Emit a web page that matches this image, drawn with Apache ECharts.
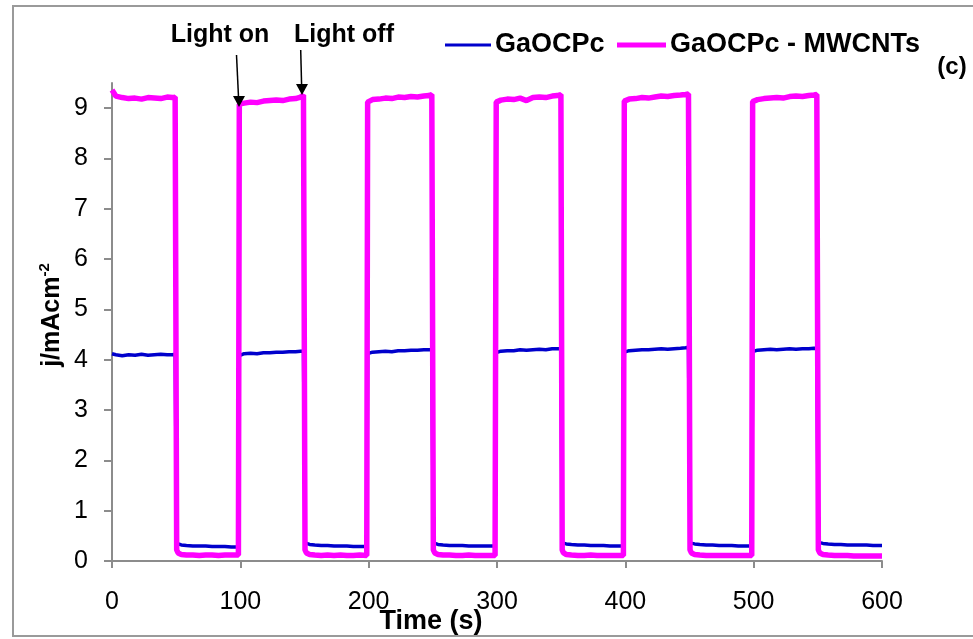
<!DOCTYPE html>
<html>
<head>
<meta charset="utf-8">
<script src="https://cdn.jsdelivr.net/npm/echarts@6/dist/echarts.min.js"></script>
<style>
html,body{margin:0;padding:0;background:#fff;}
#main{width:973px;height:639px;}
</style>
</head>
<body>
<div id="main"></div>
<script>
// Time (s)
var times = [
  0, 3, 8, 13, 18, 23, 28, 33, 38, 43, 47, 49.2,
  50.4, 51.5, 54, 58, 63, 68, 73, 78, 83, 88, 93, 98.5,
  99.2, 103, 108, 113, 118, 123, 128, 133, 138, 143, 147, 149.2,
  150.4, 151.5, 154, 158, 163, 168, 173, 178, 183, 188, 193, 198.5,
  199.2, 203, 208, 213, 218, 223, 228, 233, 238, 243, 247, 249.2,
  250.4, 251.5, 254, 258, 263, 268, 273, 278, 283, 288, 293, 298.5,
  299.4, 303, 308, 313, 318, 323, 328, 333, 338, 343, 347, 349.8,
  350.8, 351.8, 354, 358, 363, 368, 373, 378, 383, 388, 393, 398.5,
  399.2, 403, 408, 413, 418, 423, 428, 433, 438, 443, 447, 449.2,
  450.4, 451.5, 454, 458, 463, 468, 473, 478, 483, 488, 493, 498.5,
  499.2, 503, 508, 513, 518, 523, 528, 533, 538, 543, 547, 549.2,
  550.4, 551.5, 554, 558, 563, 568, 573, 578, 583, 588, 593, 600
];
// GaOCPc (j / mA cm^-2)
var gaocpc = [
  4.12, 4.10, 4.08, 4.10, 4.09, 4.11, 4.09, 4.10, 4.11, 4.10, 4.10, 4.11,
  0.35, 0.33, 0.32, 0.31, 0.30, 0.30, 0.30, 0.29, 0.29, 0.29, 0.28, 0.28,
  4.08, 4.12, 4.13, 4.12, 4.14, 4.14, 4.15, 4.15, 4.16, 4.16, 4.17, 4.17,
  0.36, 0.34, 0.33, 0.32, 0.31, 0.31, 0.30, 0.30, 0.30, 0.29, 0.29, 0.29,
  4.12, 4.15, 4.16, 4.17, 4.16, 4.18, 4.18, 4.19, 4.19, 4.20, 4.20, 4.20,
  0.36, 0.34, 0.33, 0.32, 0.31, 0.31, 0.31, 0.30, 0.30, 0.30, 0.30, 0.30,
  4.14, 4.17, 4.18, 4.18, 4.20, 4.19, 4.20, 4.21, 4.20, 4.22, 4.22, 4.22,
  0.36, 0.35, 0.34, 0.33, 0.32, 0.32, 0.31, 0.31, 0.31, 0.30, 0.30, 0.30,
  4.15, 4.18, 4.19, 4.20, 4.20, 4.21, 4.22, 4.21, 4.22, 4.23, 4.24, 4.25,
  0.36, 0.35, 0.34, 0.33, 0.32, 0.32, 0.31, 0.31, 0.31, 0.30, 0.30, 0.30,
  4.16, 4.19, 4.20, 4.21, 4.20, 4.21, 4.22, 4.21, 4.22, 4.22, 4.23, 4.22,
  0.37, 0.36, 0.35, 0.34, 0.33, 0.33, 0.32, 0.32, 0.32, 0.32, 0.31, 0.31
];
// GaOCPc - MWCNTs (j / mA cm^-2)
var gaocpcMwcnt = [
  9.36, 9.24, 9.21, 9.19, 9.20, 9.18, 9.21, 9.20, 9.19, 9.22, 9.21, 9.22,
  0.22, 0.16, 0.13, 0.12, 0.12, 0.11, 0.12, 0.12, 0.11, 0.12, 0.12, 0.12,
  9.08, 9.10, 9.12, 9.11, 9.14, 9.15, 9.16, 9.15, 9.18, 9.19, 9.22, 9.26,
  0.22, 0.16, 0.13, 0.12, 0.11, 0.12, 0.11, 0.12, 0.11, 0.11, 0.12, 0.11,
  9.12, 9.17, 9.18, 9.20, 9.19, 9.22, 9.21, 9.23, 9.22, 9.24, 9.25, 9.27,
  0.22, 0.16, 0.13, 0.12, 0.12, 0.11, 0.11, 0.12, 0.11, 0.11, 0.11, 0.11,
  9.12, 9.16, 9.18, 9.17, 9.20, 9.15, 9.21, 9.22, 9.21, 9.24, 9.25, 9.27,
  0.22, 0.16, 0.13, 0.12, 0.11, 0.11, 0.12, 0.11, 0.11, 0.11, 0.11, 0.11,
  9.14, 9.18, 9.19, 9.21, 9.20, 9.22, 9.24, 9.23, 9.25, 9.26, 9.27, 9.28,
  0.22, 0.16, 0.13, 0.12, 0.11, 0.11, 0.11, 0.11, 0.11, 0.11, 0.11, 0.11,
  9.13, 9.17, 9.19, 9.20, 9.21, 9.20, 9.23, 9.24, 9.23, 9.25, 9.26, 9.27,
  0.22, 0.16, 0.13, 0.12, 0.11, 0.11, 0.11, 0.10, 0.10, 0.10, 0.10, 0.10
];
var xTicks = [0, 100, 200, 300, 400, 500, 600];
var yTicks = [0, 1, 2, 3, 4, 5, 6, 7, 8, 9];
var seriesNames = ['GaOCPc', 'GaOCPc - MWCNTs'];

function pairs(xs, ys) {
  var out = [];
  for (var i = 0; i < xs.length; i++) out.push([xs[i], ys[i]]);
  return out;
}

var FONT = 'Liberation Sans';
var AXIS_COLOR = '#8c8c8c';
var BLUE = '#0000CC';
var MAGENTA = '#FF00FF';
var legendText = {fontFamily: FONT, fontSize: 27, fontWeight: 'bold', color: '#000', lineHeight: 28, padding: [0, 0, 0, -1]};
var chart = echarts.init(document.getElementById('main'), null, {renderer: 'canvas'});
chart.setOption({
  animation: false,
  backgroundColor: '#ffffff',
  textStyle: {fontFamily: FONT},
  grid: {left: 112, right: 91, top: 83, bottom: 78, containLabel: false, outerBoundsMode: 'none'},
  legend: [
    {
      left: 440, top: 26, icon: 'rect',
      itemWidth: 46, itemHeight: 3, itemGap: 10,
      textStyle: legendText,
      data: [seriesNames[0]]
    },
    {
      left: 612, top: 26, icon: 'rect',
      itemWidth: 49, itemHeight: 5, itemGap: 10,
      textStyle: legendText,
      data: [seriesNames[1]]
    }
  ],
  xAxis: {
    type: 'value', min: 0, max: 600, interval: 100,
    name: 'Time (s)', nameLocation: 'middle', nameGap: 47, nameMoveOverlap: false,
    nameTextStyle: {fontFamily: FONT, fontSize: 27, fontWeight: 'bold', color: '#000', padding: [0, 132, 0, 0]},
    axisLine: {lineStyle: {color: AXIS_COLOR, width: 2}},
    axisTick: {show: true, inside: false, length: 7, lineStyle: {color: AXIS_COLOR, width: 2}},
    axisLabel: {fontFamily: FONT, fontSize: 25, color: '#000', margin: 29, customValues: xTicks},
    splitLine: {show: false}
  },
  yAxis: {
    type: 'value', min: 0, max: 9.5, interval: 1,
    name: '{a|j/mAcm}{b|-2}', nameLocation: 'middle', nameGap: 47, nameRotate: 90, nameMoveOverlap: false,
    nameTextStyle: {
      fontFamily: FONT, color: '#000', padding: [0, 0, 0, 14],
      rich: {
        a: {fontFamily: FONT, fontSize: 25, fontWeight: 'bold', color: '#000', lineHeight: 28, verticalAlign: 'bottom'},
        b: {fontFamily: FONT, fontSize: 15, fontWeight: 'bold', color: '#000', lineHeight: 28, verticalAlign: 'top'}
      }
    },
    axisLine: {show: true, lineStyle: {color: AXIS_COLOR, width: 2}},
    axisTick: {show: true, inside: false, length: 8, lineStyle: {color: AXIS_COLOR, width: 2}, customValues: yTicks},
    axisLabel: {fontFamily: FONT, fontSize: 25, color: '#000', margin: 24, customValues: yTicks},
    splitLine: {show: false}
  },
  series: [
    {
      name: seriesNames[0], type: 'line', showSymbol: false, symbol: 'none',
      data: pairs(times, gaocpc),
      lineStyle: {color: BLUE, width: 3.5},
      itemStyle: {color: BLUE},
      z: 2
    },
    {
      name: seriesNames[1], type: 'line', showSymbol: false, symbol: 'none',
      data: pairs(times, gaocpcMwcnt),
      lineStyle: {color: MAGENTA, width: 5.5},
      itemStyle: {color: MAGENTA},
      z: 3
    }
  ],
  graphic: [
    {type: 'rect', silent: true, z: 0,
     shape: {x: 13, y: 6, width: 990, height: 630},
     style: {fill: null, stroke: '#9a9a9a', lineWidth: 2}},
    {type: 'text', x: 220, y: 35, z: 10,
     style: {text: 'Light on', fontFamily: FONT, fontSize: 25, fontWeight: 'bold', fill: '#000', align: 'center', verticalAlign: 'middle'}},
    {type: 'text', x: 344, y: 35, z: 10,
     style: {text: 'Light off', fontFamily: FONT, fontSize: 25, fontWeight: 'bold', fill: '#000', align: 'center', verticalAlign: 'middle'}},
    {type: 'text', x: 952, y: 67, z: 10,
     style: {text: '(c)', fontFamily: FONT, fontSize: 24, fontWeight: 'bold', fill: '#000', align: 'center', verticalAlign: 'middle'}},
    {type: 'line', z: 10, shape: {x1: 236.5, y1: 55, x2: 238.5, y2: 97}, style: {stroke: '#000', lineWidth: 1.5}},
    {type: 'polygon', z: 10, shape: {points: [[233, 96], [245, 96], [239, 107]]}, style: {fill: '#000'}},
    {type: 'line', z: 10, shape: {x1: 300.7, y1: 50, x2: 301.6, y2: 85}, style: {stroke: '#000', lineWidth: 1.5}},
    {type: 'polygon', z: 10, shape: {points: [[296, 84], [308, 84], [302, 95]]}, style: {fill: '#000'}}
  ]
});
</script>
</body>
</html>
